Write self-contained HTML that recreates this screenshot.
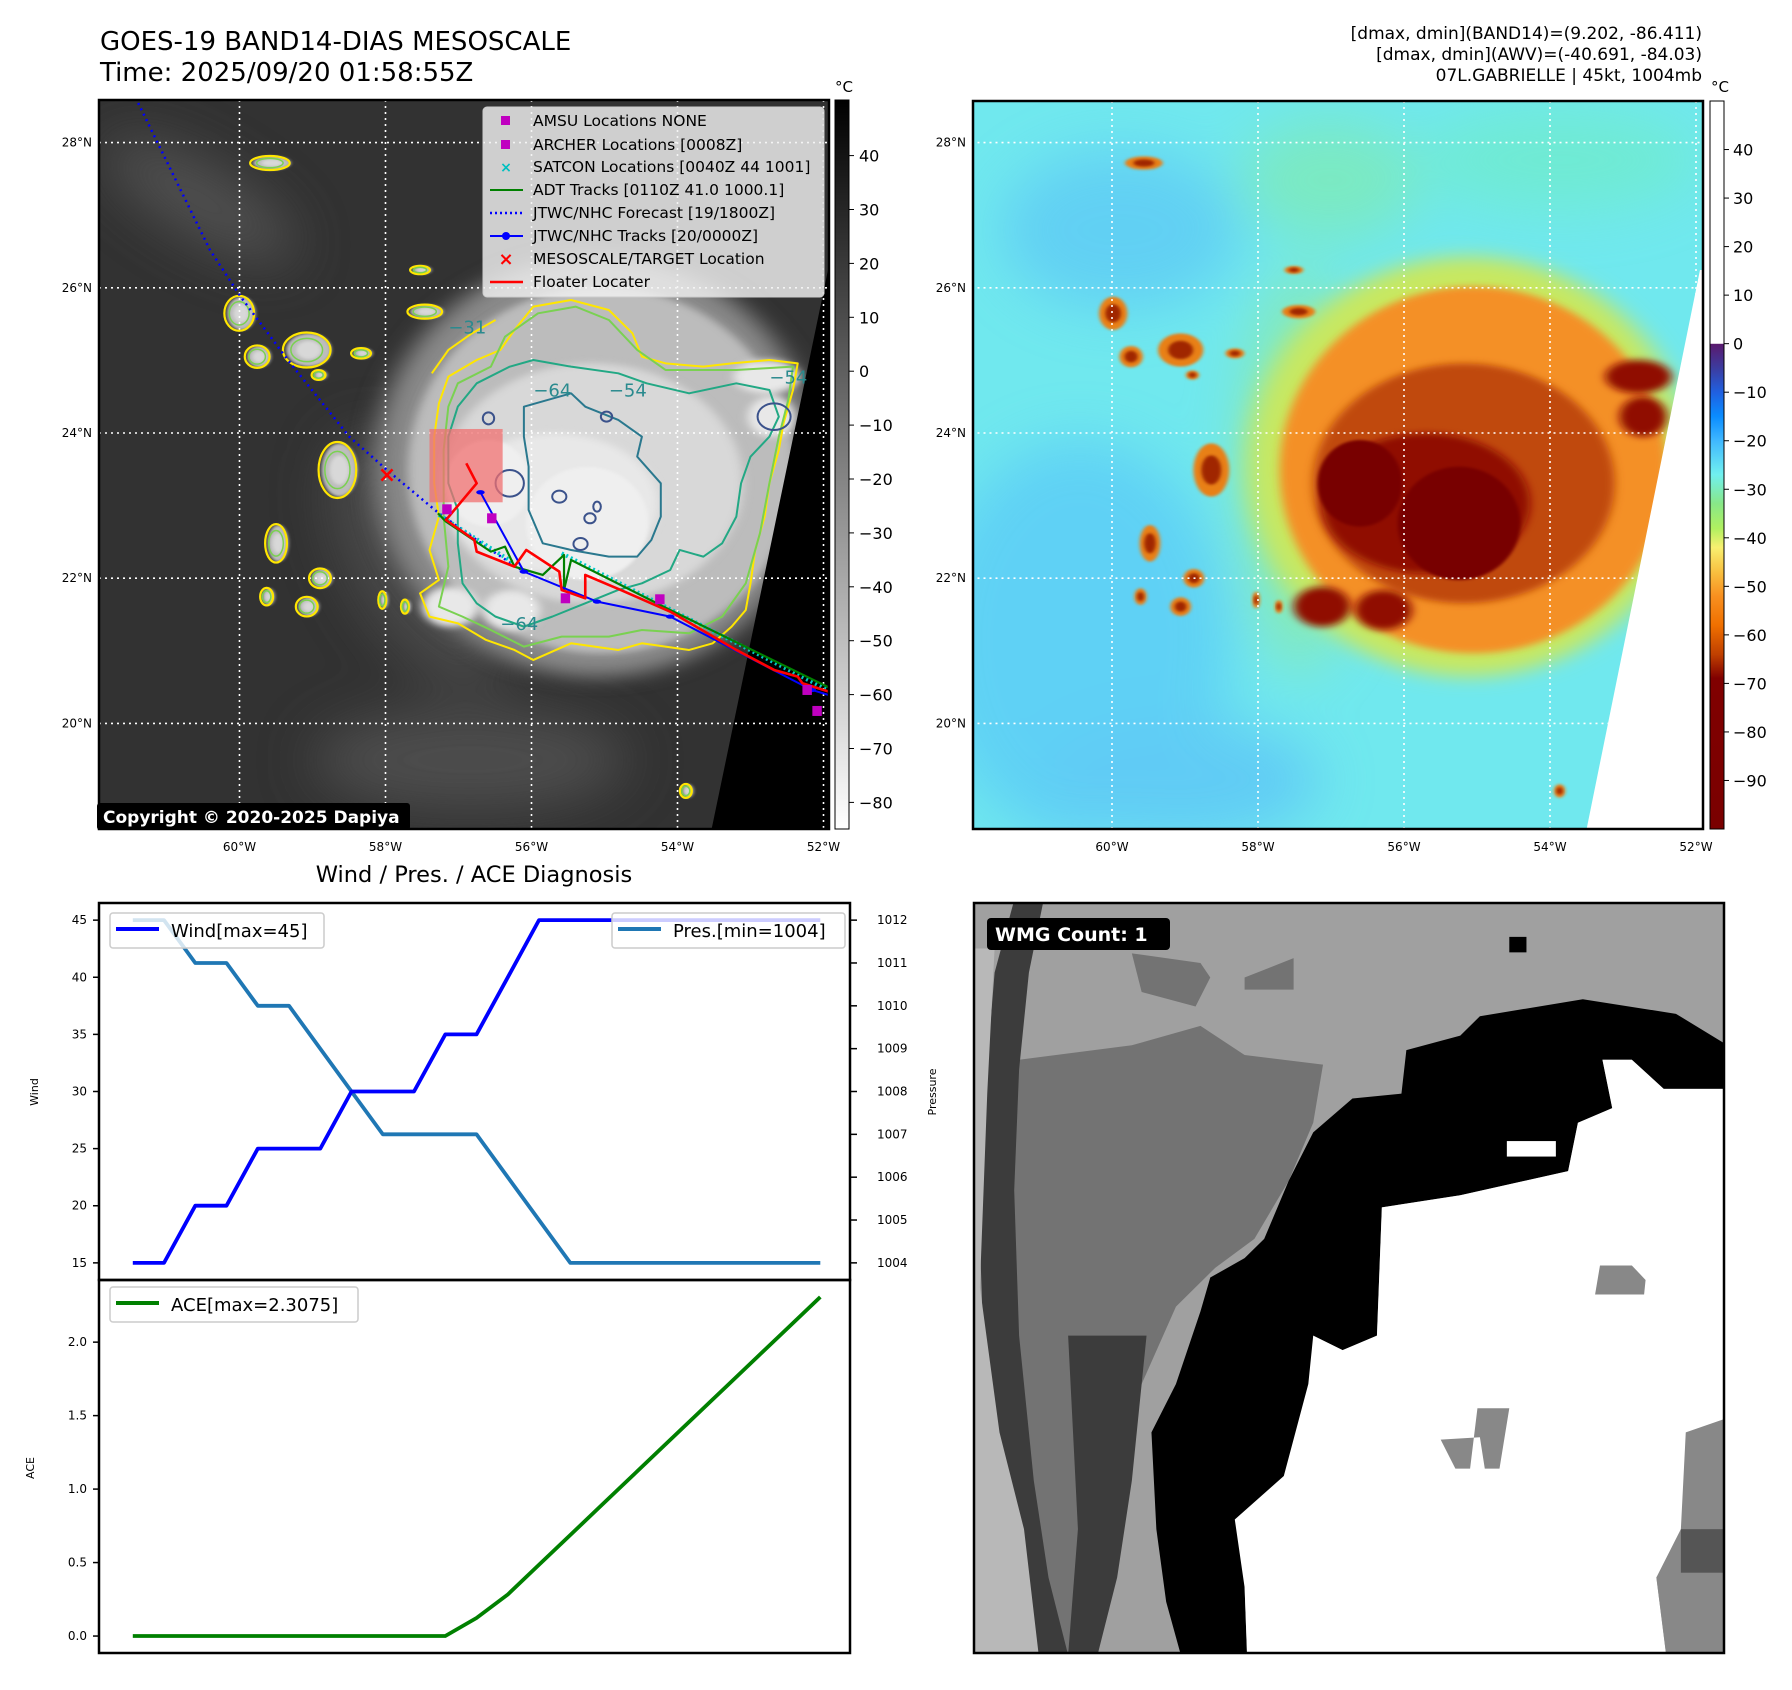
<!DOCTYPE html>
<html><head><meta charset="utf-8"><style>
html,body{margin:0;padding:0;background:#fff;}
svg{display:block;font-family:"DejaVu Sans","Liberation Sans",sans-serif;}
</style></head><body>
<svg id="fig" width="1792" height="1690" viewBox="0 0 1792 1690" xmlns="http://www.w3.org/2000/svg">
<defs>
  <clipPath id="clipL"><rect x="99" y="100" width="730" height="729"/></clipPath>
  <clipPath id="clipR"><rect x="973" y="101" width="730" height="728"/></clipPath>
  <clipPath id="clipB"><rect x="974" y="903" width="750" height="750"/></clipPath>
  <filter id="b4" x="-30%" y="-30%" width="160%" height="160%"><feGaussianBlur stdDeviation="4"/></filter>
  <filter id="b10" x="-30%" y="-30%" width="160%" height="160%"><feGaussianBlur stdDeviation="10"/></filter>
  <filter id="b25" x="-30%" y="-30%" width="160%" height="160%"><feGaussianBlur stdDeviation="28"/></filter>
  <linearGradient id="gGrey" x1="0" y1="0" x2="0" y2="1">
    <stop offset="0" stop-color="#000"/><stop offset="1" stop-color="#fff"/>
  </linearGradient>
  <linearGradient id="gAwv" x1="0" y1="0" x2="0" y2="1">
    <stop offset="0" stop-color="#fff"/><stop offset="0.333" stop-color="#fff"/>
    <stop offset="0.334" stop-color="#5a1a6e"/><stop offset="0.367" stop-color="#3c3ca0"/>
    <stop offset="0.4" stop-color="#2060e0"/><stop offset="0.433" stop-color="#0a8cff"/>
    <stop offset="0.467" stop-color="#40b8ff"/><stop offset="0.513" stop-color="#70f0f0"/>
    <stop offset="0.553" stop-color="#88e888"/><stop offset="0.587" stop-color="#b0f060"/>
    <stop offset="0.613" stop-color="#f8f070"/><stop offset="0.647" stop-color="#f8c040"/>
    <stop offset="0.68" stop-color="#f89020"/><stop offset="0.72" stop-color="#f07000"/>
    <stop offset="0.76" stop-color="#c04000"/><stop offset="0.793" stop-color="#800000"/>
    <stop offset="1" stop-color="#7a0000"/>
  </linearGradient>
</defs>

<!-- Titles -->
<text x="100" y="50" font-size="26">GOES-19 BAND14-DIAS MESOSCALE</text>
<text x="100" y="81" font-size="26">Time: 2025/09/20 01:58:55Z</text>
<g font-size="17" text-anchor="end">
  <text x="1702" y="39">[dmax, dmin](BAND14)=(9.202, -86.411)</text>
  <text x="1702" y="60">[dmax, dmin](AWV)=(-40.691, -84.03)</text>
  <text x="1702" y="81">07L.GABRIELLE | 45kt, 1004mb</text>
</g>

<!-- LEFT MAP -->
<g clip-path="url(#clipL)">
  <rect x="99" y="100" width="730" height="729" fill="#323232"/>
  <g filter="url(#b25)" opacity="0.7">
    <ellipse cx="200" cy="200" rx="110" ry="35" fill="#606060" transform="rotate(30 200 200)"/>
    <ellipse cx="470" cy="760" rx="160" ry="50" fill="#5a5a5a"/>
    <ellipse cx="420" cy="560" rx="70" ry="140" fill="#555" transform="rotate(-30 420 560)"/>
  </g>
  <g id="stormL" transform="translate(101,250) scale(0.4721,0.3333)"></g>
  <polygon points="828,270 832,270 832,832 711,832" fill="#000"/>
  <g id="gridL" stroke="#fff" stroke-width="1.6" stroke-dasharray="2,4" fill="none"></g>
  <g id="overlayL" transform="translate(99,250) scale(0.4721,0.3333)"></g>
</g>
<rect x="99" y="100" width="730" height="729" fill="none" stroke="#000" stroke-width="2.5"/>
<g id="ticksL" font-size="12"></g>
<!-- Legend -->
<g font-size="15.5">
  <rect x="483" y="107" width="341" height="190" rx="4" fill="#f2f2f2" fill-opacity="0.82" stroke="#ccc"/>
  <rect x="501" y="116" width="9" height="9" fill="#c000c0"/><text x="533" y="126">AMSU Locations NONE</text>
  <rect x="501" y="140" width="9" height="9" fill="#c000c0"/><text x="533" y="150">ARCHER Locations [0008Z]</text>
  <text x="506" y="172" fill="#00c0c0" text-anchor="middle" font-size="14" font-weight="bold">×</text><text x="533" y="172">SATCON Locations [0040Z 44 1001]</text>
  <line x1="490" y1="190" x2="523" y2="190" stroke="#008000" stroke-width="2"/><text x="533" y="195">ADT Tracks [0110Z 41.0 1000.1]</text>
  <line x1="490" y1="213" x2="523" y2="213" stroke="#0000ff" stroke-width="2.5" stroke-dasharray="2,3"/><text x="533" y="218">JTWC/NHC Forecast [19/1800Z]</text>
  <line x1="490" y1="236" x2="523" y2="236" stroke="#0000ff" stroke-width="2"/><circle cx="506" cy="236" r="4" fill="#0000ff"/><text x="533" y="241">JTWC/NHC Tracks [20/0000Z]</text>
  <text x="506" y="265" fill="#ff0000" text-anchor="middle" font-size="18" font-weight="bold">×</text><text x="533" y="264">MESOSCALE/TARGET Location</text>
  <line x1="490" y1="282" x2="523" y2="282" stroke="#ff0000" stroke-width="2.5"/><text x="533" y="287">Floater Locater</text>
</g>
<g>
  <rect x="97" y="803" width="313" height="27" rx="3" fill="#000"/>
  <text x="103" y="823" font-size="17" font-weight="bold" fill="#fff">Copyright © 2020-2025 Dapiya</text>
</g>
<!-- left colorbar -->
<g>
  <rect x="835" y="100" width="14" height="729" fill="url(#gGrey)" stroke="#000" stroke-width="1"/>
  <text x="844" y="92" font-size="15" text-anchor="middle">°C</text>
  <g id="cbL" font-size="16"></g>
</g>

<!-- RIGHT MAP -->
<g clip-path="url(#clipR)">
  <rect x="973" y="101" width="730" height="728" fill="#70e8ee"/>
  <g filter="url(#b25)" opacity="0.7">
    <ellipse cx="1080" cy="640" rx="150" ry="200" fill="#58c8f8"/>
    <ellipse cx="1120" cy="230" rx="120" ry="80" fill="#5cc6f6"/>
    <ellipse cx="1180" cy="780" rx="140" ry="60" fill="#5ac0f8"/>
    <ellipse cx="1560" cy="160" rx="140" ry="50" fill="#70ecc8"/>
    <ellipse cx="1330" cy="180" rx="90" ry="60" fill="#80eab0"/>
    <ellipse cx="1300" cy="470" rx="60" ry="200" fill="#90eaa0"/>
  </g>
  <g id="stormR" transform="translate(973,250) scale(0.4719,0.3333)"></g>
  <polygon points="1700,270 1706,270 1706,832 1586,832" fill="#fff"/>
  <g id="gridR" stroke="#fff" stroke-width="1.6" stroke-dasharray="2,4" fill="none"></g>
</g>
<rect x="973" y="101" width="730" height="728" fill="none" stroke="#000" stroke-width="2.5"/>
<g id="ticksR" font-size="12"></g>
<g>
  <rect x="1710" y="101" width="14" height="728" fill="url(#gAwv)" stroke="#000" stroke-width="1"/>
  <text x="1720" y="92" font-size="15" text-anchor="middle">°C</text>
  <g id="cbR" font-size="16"></g>
</g>

<!-- BOTTOM-RIGHT PANEL -->
<g clip-path="url(#clipB)">
  <g transform="translate(974,903) scale(0.4902,0.4839) translate(-8,-6)">
    <rect x="0" y="0" width="1560" height="1570" fill="#a0a0a0"/>
    <polygon fill="#737373" points="100,330 330,300 470,260 560,320 720,340 700,460 650,580 580,700 500,760 420,840 350,1000 300,1250 250,1450 200,1560 130,1560 100,1000 60,600 90,400"/>
    <polygon fill="#737373" points="330,110 470,130 490,160 460,220 350,190"/>
    <polygon fill="#737373" points="560,160 660,120 660,185 560,185"/>
    <polygon fill="#3c3c3c" points="90,0 150,0 120,150 100,350 90,600 100,900 130,1200 160,1400 200,1560 100,1560 60,1300 30,1000 20,700 30,400 50,150"/>
    <polygon fill="#3c3c3c" points="200,900 360,900 350,1000 330,1200 300,1400 260,1560 200,1560 220,1300 210,1100"/>
    <polygon fill="#b8b8b8" points="0,100 50,100 35,400 20,800 60,1100 110,1300 140,1560 0,1560"/>
    <polygon fill="#000" points="890,310 1000,280 1040,240 1250,205 1440,235 1545,300 1545,390 1415,390 1350,330 1290,330 1310,430 1240,460 1220,560 1000,610 840,635 830,900 760,930 700,900 720,1050 690,1200 640,1260 580,1290 560,1420 565,1560 430,1560 400,1450 380,1300 370,1100 420,1000 470,850 490,780 560,740 600,700 650,580 700,480 780,410 880,400"/>
    <polygon fill="#fff" points="1290,330 1350,330 1415,390 1545,390 1545,1070 1500,1100 1470,1300 1400,1400 1420,1560 565,1560 560,1420 540,1280 640,1190 690,1000 700,900 760,930 830,900 840,635 1000,610 1220,560 1240,460 1310,430"/>
    <polygon fill="#888" points="1460,1100 1545,1070 1545,1560 1420,1560 1400,1400 1450,1300"/>
    <rect x="1450" y="1300" width="95" height="90" fill="#555"/>
    <rect x="1095" y="498" width="100" height="32" fill="#fff"/>
    <rect x="1100" y="76" width="35" height="32" fill="#000"/>
    <polygon fill="#888" points="1285,755 1350,755 1378,785 1375,815 1275,815"/>
    <polygon fill="#888" points="1035,1050 1100,1050 1080,1175 1050,1175 1040,1110 960,1115 990,1175 1020,1175"/>
  </g>
</g>
<rect x="974" y="903" width="750" height="750" fill="none" stroke="#000" stroke-width="2.5"/>
<g>
  <rect x="987" y="918" width="183" height="32" rx="4" fill="#000"/>
  <text x="995" y="941" font-size="19" font-weight="bold" fill="#fff">WMG Count: 1</text>
</g>

<!-- BOTTOM-LEFT CHART -->
<text x="474" y="882" font-size="22.5" text-anchor="middle">Wind / Pres. / ACE Diagnosis</text>
<g id="chart"></g>
</svg>

<script>
// ---- chart data ----
const timeIndex = [0,1,2,3,4,5,6,7,8,9,10,11,12,13,14,15,16,17,18,19,20,21,22];
const windValues = [15,15,20,20,25,25,25,30,30,30,35,35,40,45,45,45,45,45,45,45,45,45,45];
const presValues = [1012,1012,1011,1011,1010,1010,1009,1008,1007,1007,1007,1007,1006,1005,1004,1004,1004,1004,1004,1004,1004,1004,1004];
const aceValues = [0,0,0,0,0,0,0,0,0,0,0,0.1225,0.2825,0.485,0.6875,0.89,1.0925,1.295,1.4975,1.7,1.9025,2.105,2.3075];
const windTicks = [15,20,25,30,35,40,45];
const presTicks = [1004,1005,1006,1007,1008,1009,1010,1011,1012];
const aceTicks = [0.0,0.5,1.0,1.5,2.0];
const bandTicks = [40,30,20,10,0,-10,-20,-30,-40,-50,-60,-70,-80];
const awvTicks = [40,30,20,10,0,-10,-20,-30,-40,-50,-60,-70,-80,-90];
const latTicks = [28,26,24,22,20];
const lonTicks = [60,58,56,54,52];

const NS = 'http://www.w3.org/2000/svg';
function mk(tag, attrs, parent){const e=document.createElementNS(NS,tag);for(const k in attrs)e.setAttribute(k,attrs[k]);parent.appendChild(e);return e;}
function txt(tag,attrs,parent,s){const e=mk(tag,attrs,parent);e.textContent=s;return e;}

const AX={l:99,r:850,t:903,m:1280,b:1653};
const xMin=-1.08,xMax=22.95;
function xS(i){return AX.l+(i-xMin)/(xMax-xMin)*(AX.r-AX.l);}
function yWind(v){return AX.t+(46.5-v)/33*(AX.m-AX.t);}
function yPres(v){return AX.t+(1012.4-v)/8.8*(AX.m-AX.t);}
function yAce(v){const lo=-0.11538,hi=2.42288;return AX.m+(hi-v)/(hi-lo)*(AX.b-AX.m);}

const chart=document.getElementById('chart');
function line(vals,yf,color,name){
  const p=mk('polyline',{points:vals.map((v,i)=>xS(timeIndex[i]).toFixed(1)+','+yf(v).toFixed(1)).join(' '),fill:'none',stroke:color,'stroke-width':3.8,'stroke-linejoin':'round'},chart);
  
  
}
line(presValues,yPres,'#1f77b4','pressure-line');
line(windValues,yWind,'#0000ff','wind-line');
line(aceValues,yAce,'#008000','ace-line');
mk('rect',{x:AX.l,y:AX.t,width:AX.r-AX.l,height:AX.m-AX.t,fill:'none',stroke:'#000','stroke-width':2.5},chart);
mk('rect',{x:AX.l,y:AX.m,width:AX.r-AX.l,height:AX.b-AX.m,fill:'none',stroke:'#000','stroke-width':2.5},chart);
windTicks.forEach(v=>{const y=yWind(v);mk('line',{x1:AX.l-6,x2:AX.l,y1:y,y2:y,stroke:'#000','stroke-width':1.5},chart);
  const t=txt('text',{x:AX.l-12,y:y+4,'font-size':12,'text-anchor':'end'},chart,String(v));});
presTicks.forEach(v=>{const y=yPres(v);mk('line',{x1:AX.r,x2:AX.r+7,y1:y,y2:y,stroke:'#000','stroke-width':1.5},chart);
  const t=txt('text',{x:AX.r+27,y:y+4,'font-size':12},chart,String(v));});
aceTicks.forEach(v=>{const y=yAce(v);mk('line',{x1:AX.l-6,x2:AX.l,y1:y,y2:y,stroke:'#000','stroke-width':1.5},chart);
  const t=txt('text',{x:AX.l-12,y:y+4,'font-size':12,'text-anchor':'end'},chart,v.toFixed(1));});
txt('text',{x:38,y:1092,'font-size':11,'text-anchor':'middle',transform:'rotate(-90 38 1092)'},chart,'Wind');
txt('text',{x:936,y:1092,'font-size':11,'text-anchor':'middle',transform:'rotate(-90 936 1092)'},chart,'Pressure');
txt('text',{x:34,y:1468,'font-size':11,'text-anchor':'middle',transform:'rotate(-90 34 1468)'},chart,'ACE');
function legend(x,y,w,color,label,name){
  const g=mk('g',{},chart);
  
  
  mk('rect',{x:x,y:y,width:w,height:35,rx:3,fill:'#fff','fill-opacity':0.8,stroke:'#ccc','stroke-width':1.5},g);
  mk('line',{x1:x+6,x2:x+49,y1:y+16,y2:y+16,stroke:color,'stroke-width':4},g);
  txt('text',{x:x+61,y:y+24,'font-size':18},g,label);
}
legend(110,913,214,'#0000ff','Wind[max=45]','wind-legend');
legend(612,913,233,'#1f77b4','Pres.[min=1004]','pressure-legend');
legend(110,1287,248,'#008000','ACE[max=2.3075]','ace-legend');

// ---- maps ----
const LON0=239.5,DLON=73.0,LAT0=142.6,DLAT=72.6;
function gx(lon,off){return LON0+off+(60-lon)*DLON;}
function gy(lat){return LAT0+(28-lat)*DLAT;}
[['gridL',0,100,829],['gridR',872.5,101,829]].forEach(([id,off,t,b])=>{
  const g=document.getElementById(id);
  lonTicks.forEach(l=>mk('line',{x1:gx(l,off),x2:gx(l,off),y1:t,y2:b},g));
  latTicks.forEach(l=>mk('line',{x1:99+off,x2:829+off+2,y1:gy(l),y2:gy(l)},g));
});
[['ticksL',0,92],['ticksR',872.5,966]].forEach(([id,off,lx])=>{
  const g=document.getElementById(id);
  latTicks.forEach(l=>{const t=txt('text',{x:lx,y:gy(l)+4,'text-anchor':'end'},g,l+'°N');});
  lonTicks.forEach(l=>{const t=txt('text',{x:gx(l,off),y:851,'text-anchor':'middle'},g,l+'°W');});
});
const cbL=document.getElementById('cbL');
bandTicks.forEach(v=>{const y=155.6+(40-v)*5.39;mk('line',{x1:849,x2:854,y1:y,y2:y,stroke:'#000'},cbL);const t=txt('text',{x:859,y:y+6},cbL,v<0?'\u2212'+(-v):String(v));});
const cbR=document.getElementById('cbR');
awvTicks.forEach(v=>{const y=101+(50-v)/150*728;mk('line',{x1:1724,x2:1729,y1:y,y2:y,stroke:'#000'},cbR);const t=txt('text',{x:1733,y:y+6},cbR,v<0?'\u2212'+(-v):String(v));});

const cells=[[297,190,30,50],[335,320,25,32],[440,300,48,50],[555,310,20,15],[690,185,35,20],[680,60,20,12],[505,660,38,80],[468,985,22,28],[375,880,22,55],[440,1070,22,28],[355,1040,13,25],[600,1050,8,25],[648,1070,8,20],[362,-261,40,20],[1243,1623,12,20],[465,375,14,14]];
function storm(id,pal){
  const g=document.getElementById(id);
  const e=(cx,cy,rx,ry,f,flt)=>mk('ellipse',{cx,cy,rx,ry,fill:f,filter:flt||'url(#b10)'},g);
  e(1050,650,470,630,pal[0],'url(#b25)');
  e(1060,660,410,550,pal[1]);
  e(1040,700,320,360,pal[2]);
  e(960,760,220,210,pal[3]);
  e(820,700,90,130,pal[4],'url(#b4)');
  e(1030,820,130,170,pal[4],'url(#b4)');
  e(1410,380,70,50,pal[3]);e(1420,500,50,60,pal[3]);
  e(740,1070,60,60,pal[3]);e(870,1080,60,60,pal[3]);
  cells.forEach(c=>{e(c[0],c[1],c[2],c[3],pal[5],'url(#b4)');e(c[0],c[1],c[2]*0.55,c[3]*0.55,pal[6],'url(#b4)');});
}
storm('stormL',['#8a8a8a','#bcbcbc','#d8d8d8','#e8e8e8','#efefef','#bdbdbd','#d8d8d8']);
storm('stormR',['#c8e860','#f49028','#c04808','#900c00','#780000','#e88018','#a02800']);

const ov=document.getElementById('overlayL');
function pth(pts,st,w,extra){const a={points:pts,fill:'none',stroke:st,'stroke-width':w,'vector-effect':'non-scaling-stroke','stroke-linejoin':'round'};Object.assign(a,extra||{});return mk('polyline',a,ov);}
function poly(pts,st,w){return mk('polygon',{points:pts,fill:'none',stroke:st,'stroke-width':w,'vector-effect':'non-scaling-stroke','stroke-linejoin':'round'},ov);}
poly('720,460 740,380 800,330 850,300 880,240 920,170 1000,150 1080,180 1130,250 1150,320 1200,340 1280,350 1340,340 1420,330 1480,340 1470,420 1450,520 1440,600 1420,700 1410,800 1390,900 1380,1000 1370,1080 1340,1130 1300,1180 1250,1200 1150,1180 1100,1200 1000,1180 920,1230 880,1200 820,1170 760,1120 700,1100 680,1030 720,990 700,900 720,800 710,700 710,560','#ffe600',2);
pth('705,370 740,300 790,250 840,210','#ffe600',2);
poly('740,470 760,400 830,350 860,260 930,190 1010,170 1080,210 1140,300 1200,360 1350,360 1470,350 1460,450 1440,560 1420,700 1400,850 1370,1000 1320,1100 1250,1150 1150,1140 1080,1160 980,1160 900,1190 830,1140 770,1100 720,1070 740,950 730,800 730,600','#7ad151',2);
poly('760,470 800,400 870,350 920,330 1000,350 1100,370 1160,400 1250,430 1350,400 1420,420 1440,500 1420,560 1380,620 1360,700 1350,800 1320,880 1280,920 1230,900 1210,960 1150,1000 1100,1020 1030,1060 960,1100 900,1130 840,1100 800,1060 770,1000 760,880 760,780 740,700 740,560','#22a884',2);
poly('900,470 1000,430 1030,470 1100,510 1150,560 1140,620 1190,700 1190,800 1170,870 1140,920 1080,920 1000,900 940,880 910,780 910,650 900,560','#2a788e',2);
[[870,700,30,40],[975,740,15,18],[1055,770,8,15],[1040,805,12,15],[1020,882,15,18],[1430,500,35,40],[1075,500,12,15],[825,505,12,18]].forEach(c=>mk('ellipse',{cx:c[0],cy:c[1],rx:c[2],ry:c[3],fill:'none',stroke:'#3b528b','stroke-width':2,'vector-effect':'non-scaling-stroke'},ov));
cells.forEach(c=>{mk('ellipse',{cx:c[0],cy:c[1],rx:c[2]*1.05,ry:c[3]*1.05,fill:'none',stroke:'#ffe600','stroke-width':2.2,'vector-effect':'non-scaling-stroke'},ov);mk('ellipse',{cx:c[0],cy:c[1],rx:c[2]*0.7,ry:c[3]*0.7,fill:'none',stroke:'#7ad151','stroke-width':1.5,'vector-effect':'non-scaling-stroke'},ov);});
[[920,440,'\u221264'],[1080,440,'\u221254'],[850,1140,'\u221264'],[1420,400,'\u221254'],[740,250,'\u221231']].forEach(t=>{txt('text',{x:t[0],y:t[1],fill:'#2a8a8e','font-size':18,transform:'translate('+t[0]+','+t[1]+') scale(2.118,3) translate('+(-t[0])+','+(-t[1])+')'},ov,t[2]);});
mk('rect',{x:700,y:537,width:155,height:220,fill:'#f07070','fill-opacity':0.75},ov);
pth('83,-441 235,0 300,140 400,330 530,560 610,660 720,790 830,900 900,965','#0000ff',2.5,{'stroke-dasharray':'2,4'});
pth('980,910 1557,1330','#00c8c8',4,{'stroke-dasharray':'2,3'});
pth('720,795 880,940','#00c8c8',4,{'stroke-dasharray':'2,3'});
pth('718,790 735,815 830,905 860,890 880,950 940,975 985,915 985,1020 1000,930 1210,1080 1557,1320','#008000',2.2);
pth('808,727 900,965 1055,1055 1210,1100 1510,1320 1557,1340','#0000ff',2);
[[808,727],[900,965],[1055,1055],[1210,1100],[1510,1320]].forEach(p=>mk('ellipse',{cx:p[0],cy:p[1],rx:9,ry:6.5,fill:'#0000ff'},ov));
pth('778,640 800,700 735,810 795,870 800,905 880,950 905,900 975,965 980,1020 1030,1045 1030,975 1105,1020 1210,1085 1350,1200 1430,1260 1480,1280 1490,1300 1557,1330','#ff0000',2.6);
[[737,778],[832,805],[988,1045],[1188,1048],[1500,1320],[1521,1383]].forEach(p=>mk('rect',{x:p[0]-10,y:p[1]-15,width:20,height:30,fill:'#c000c0'},ov));
txt('text',{x:610,y:672,fill:'#ff0000','font-size':22,'font-weight':'bold','text-anchor':'middle',transform:'translate(610,660) scale(2.118,3) translate(-610,-660)'},ov,'×');
</script>
</body></html>
